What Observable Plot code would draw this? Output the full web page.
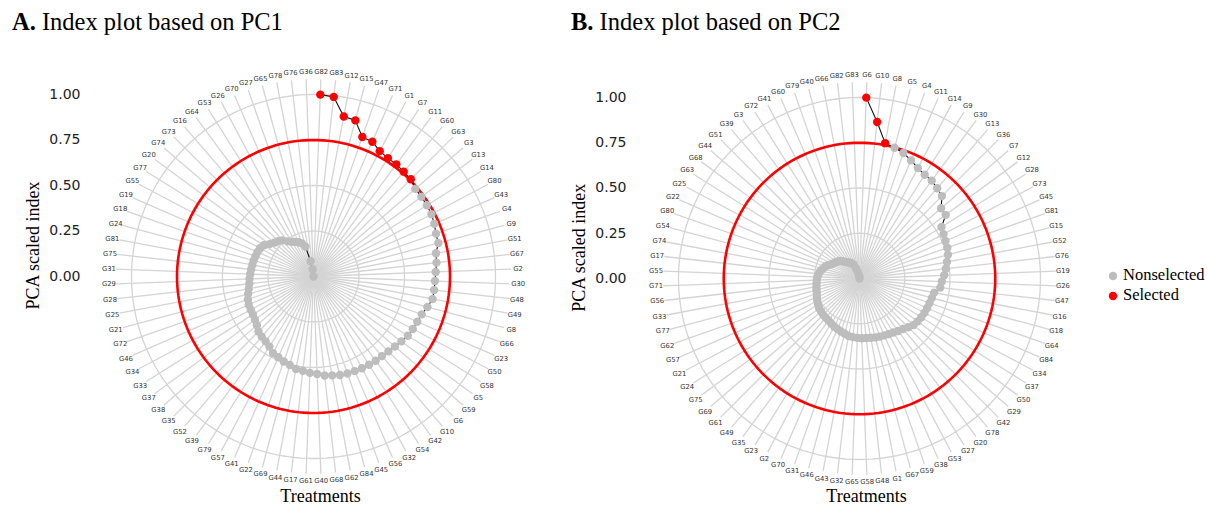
<!DOCTYPE html>
<html>
<head>
<meta charset="utf-8">
<script src="https://cdn.jsdelivr.net/npm/d3@7"></script>
<script src="https://cdn.jsdelivr.net/npm/@observablehq/plot@0.6"></script>
<style>
  html, body { margin: 0; padding: 0; background: #fff; }
  #page { position: relative; width: 1207px; height: 508px; overflow: hidden; background: #fff; }
  .title { position: absolute; top: 10px; font-family: "Liberation Serif", "Times New Roman", serif; font-size: 24.5px; line-height: 1; color: #000; white-space: nowrap; }
  .panel { position: absolute; top: 44px; }
  .legend { position: absolute; left: 1108px; top: 267px; font-family: "Liberation Serif", serif; font-size: 16.5px; line-height: 1; color: #000; }
  .legend div { position: relative; height: 20px; padding-left: 15px; white-space: nowrap; }
  .legend svg { position: absolute; left: 0; top: 4px; }
</style>
</head>
<body>
<div id="page">
  <div class="title" style="left:12px"><b>A.</b> Index plot based on PC1</div>
  <div class="title" style="left:571px"><b>B.</b> Index plot based on PC2</div>
  <div class="panel" id="pA" style="left:0px"></div>
  <div class="panel" id="pB" style="left:546px"></div>
  <div class="legend">
    <div><svg width="10" height="10"><circle cx="5" cy="5" r="4.2" fill="#bdbdbd"></circle></svg>Nonselected</div>
    <div><svg width="10" height="10"><circle cx="5" cy="5" r="4.2" fill="#ff0000"></circle></svg>Selected</div>
  </div>
</div>
<script>
// ---- data ----
const treatmentsA = ["G82","G83","G12","G15","G47","G71","G1","G7","G11","G60",
  "G63","G3","G13","G14","G80","G43","G4","G9","G51","G67",
  "G2","G30","G48","G49","G8","G66","G23","G50","G58","G5",
  "G59","G6","G10","G42","G54","G32","G56","G45","G84","G62",
  "G68","G40","G61","G17","G44","G69","G22","G41","G57","G79",
  "G39","G52","G35","G38","G37","G33","G34","G46","G72","G21",
  "G25","G28","G29","G31","G75","G81","G24","G18","G19","G55",
  "G77","G20","G74","G73","G16","G64","G53","G26","G70","G27",
  "G65","G78","G76","G36"];
const indexA = [1.00,0.993,0.895,0.888,0.812,0.808,0.779,0.768,0.766,0.760,
  0.756,0.738,0.737,0.736,0.733,0.724,0.713,0.710,0.685,0.680,
  0.672,0.668,0.667,0.666,0.648,0.630,0.622,0.617,0.612,0.600,
  0.590,0.582,0.577,0.575,0.573,0.570,0.567,0.565,0.560,0.553,
  0.547,0.536,0.530,0.521,0.517,0.503,0.495,0.484,0.476,0.455,
  0.443,0.436,0.428,0.410,0.400,0.393,0.390,0.388,0.382,0.372,
  0.362,0.355,0.352,0.348,0.345,0.342,0.340,0.338,0.336,0.332,
  0.322,0.300,0.285,0.275,0.262,0.240,0.225,0.215,0.205,0.193,
  0.170,0.085,0.040,0.000];
const treatmentsB = ["G6","G10","G8","G5","G4","G11","G14","G9","G30","G13",
  "G36","G7","G12","G28","G73","G45","G81","G15","G52","G76",
  "G19","G26","G47","G16","G18","G64","G84","G34","G37","G50",
  "G29","G42","G78","G20","G27","G53","G38","G59","G67","G1",
  "G48","G58","G65","G32","G43","G46","G31","G70","G2","G23",
  "G35","G49","G61","G69","G75","G24","G21","G57","G62","G77",
  "G33","G56","G71","G55","G17","G74","G54","G80","G22","G25",
  "G63","G68","G44","G51","G39","G3","G72","G41","G60","G79",
  "G40","G66","G82","G83"];
const indexB = [1.00,0.870,0.761,0.748,0.735,0.712,0.690,0.677,0.672,0.658,
  0.644,0.595,0.592,0.535,0.525,0.518,0.514,0.506,0.492,0.480,
  0.468,0.455,0.449,0.420,0.414,0.410,0.408,0.406,0.403,0.399,
  0.394,0.381,0.368,0.360,0.352,0.347,0.343,0.340,0.337,0.333,
  0.331,0.330,0.328,0.326,0.323,0.316,0.310,0.305,0.300,0.294,
  0.288,0.286,0.284,0.280,0.277,0.270,0.264,0.257,0.250,0.246,
  0.242,0.239,0.236,0.233,0.227,0.220,0.210,0.200,0.186,0.172,
  0.163,0.155,0.148,0.135,0.122,0.112,0.104,0.095,0.085,0.060,
  0.038,0.020,0.008,0.000];
const threshold = 0.75;
const radialTicks = [0, 0.25, 0.5, 0.75, 1.0];
const gridRadii = [0.25, 0.5, 0.75, 1.0];

// ---- drawing ----
function panel(names, values, U, cy) {
  const W = 546, H = 464, cx = 313, ml = 86;
  const n = names.length, step = 2 * Math.PI / n;
  const spokeR = 1.085, labelR = 1.125;
  const rows = names.map((name, i) => ({name, value: values[i], angle: (i + 0.5) * step, sel: values[i] >= threshold}));
  const circleAngles = d3.range(0, 361, 2).map(a => a * Math.PI / 180);
  const ringPts = gridRadii.flatMap(r => circleAngles.map(a => ({r, a})));
  const redPts = circleAngles.map(a => ({r: threshold, a}));
  const px = d => d.r * Math.sin(d.a), py = d => d.r * Math.cos(d.a);
  return Plot.plot({
    width: W, height: H,
    marginLeft: ml, marginRight: 0, marginTop: 0, marginBottom: 0,
    x: {domain: [-(cx - ml) / U, (W - cx) / U], axis: null},
    y: {domain: [-(H - cy) / U, cy / U]},
    style: {fontFamily: "DejaVu Sans", background: "transparent", overflow: "visible"},
    marks: [
      Plot.link(rows, {x1: 0, y1: 0, x2: d => spokeR * Math.sin(d.angle), y2: d => spokeR * Math.cos(d.angle), stroke: "#d4d4d4", strokeWidth: 1.3}),
      Plot.line(ringPts, {x: px, y: py, z: "r", stroke: "#d4d4d4", strokeWidth: 1.3}),
      Plot.line(redPts, {x: px, y: py, stroke: "#ff0000", strokeWidth: 2.6}),
      Plot.line(rows, {x: d => d.value * Math.sin(d.angle), y: d => d.value * Math.cos(d.angle), stroke: "#111", strokeWidth: 1.1, curve: "linear"}),
      Plot.dot(rows, {x: d => d.value * Math.sin(d.angle), y: d => d.value * Math.cos(d.angle), r: 4.2, fill: d => d.sel ? "#ff0000" : "#bdbdbd", stroke: "none"}),
      Plot.text(rows, {x: d => labelR * Math.sin(d.angle), y: d => labelR * Math.cos(d.angle), text: "name", fontSize: 6.8, fill: "#333", textAnchor: "middle", lineAnchor: "middle"}),
      Plot.axisY({ticks: radialTicks, tickFormat: d3.format(".2f"), tickSize: 0, tickPadding: 6, fontSize: 14, color: "#222", label: null}),
      Plot.text(["PCA scaled index"], {x: (33 - cx) / U, y: 0.17, text: d => d, rotate: -90, fontSize: 18, fontFamily: "Liberation Serif", fill: "#000", lineAnchor: "middle"}),
      Plot.text(["Treatments"], {x: 7 / U, y: (cy - 452) / U, text: d => d, fontSize: 18, fontFamily: "Liberation Serif", fill: "#000", lineAnchor: "middle"})
    ]
  });
}
document.getElementById("pA").appendChild(panel(treatmentsA, indexA, 182, 232));
document.getElementById("pB").appendChild(panel(treatmentsB, indexB, 181, 234));
</script>
</body>
</html>
